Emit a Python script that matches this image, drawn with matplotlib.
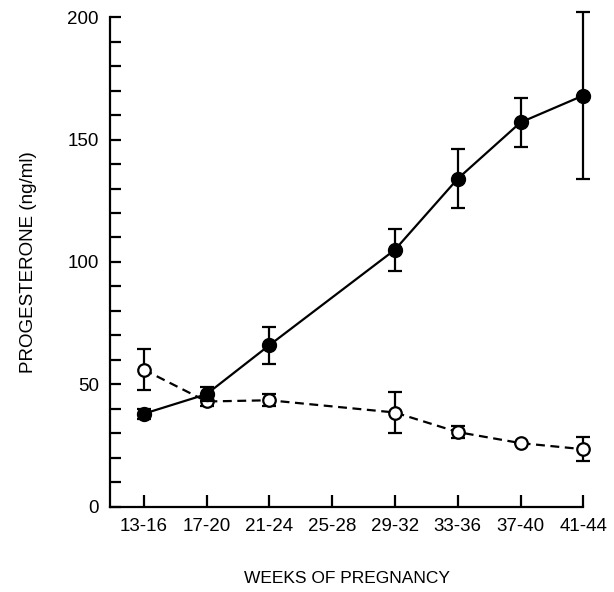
import matplotlib
matplotlib.use('Agg')
import matplotlib.pyplot as plt
import numpy as np

plt.rcParams['font.family'] = ['Liberation Sans', 'DejaVu Sans']

weeks = ['13-16', '17-20', '21-24', '25-28', '29-32', '33-36', '37-40', '41-44']

# filled circles (solid line)
filled_pos = [0, 1, 2, 4, 5, 6, 7]
filled_val = [38, 46, 66, 105, 134, 157, 168]
filled_err = [2, 3, 7.5, 8.5, 12, 10, 34]

# open circles (dashed line)
open_pos = [0, 1, 2, 4, 5, 6, 7]
open_val = [56, 43, 43.5, 38.5, 30.5, 26, 23.5]
open_err = [8.5, 2, 2.5, 8.5, 2.5, 0, 5]

fig = plt.figure(figsize=(6.14, 5.92), dpi=100)
fig.patch.set_facecolor('white')
ax = fig.add_axes([0.179, 0.144, 0.771, 0.827])

eb1 = ax.errorbar(open_pos, open_val, yerr=open_err, fmt='o', color='black',
                  linestyle=(0, (4, 2.5)), linewidth=1.6, markersize=9,
                  markerfacecolor='white', markeredgecolor='black', markeredgewidth=1.6,
                  ecolor='black', elinewidth=1.6, capsize=5, capthick=1.6, zorder=3)
eb2 = ax.errorbar(filled_pos, filled_val, yerr=filled_err, fmt='o-', color='black',
                  linewidth=1.6, markersize=10, markerfacecolor='black',
                  ecolor='black', elinewidth=1.6, capsize=5, capthick=1.6, zorder=4)
for eb in (eb1, eb2):
    for art in eb.get_children():
        art.set_clip_on(False)

ax.set_xlim(-0.54, 7)
ax.set_ylim(0, 200)
ax.spines['top'].set_visible(False)
ax.spines['right'].set_visible(False)
ax.spines['left'].set_linewidth(1.6)
ax.spines['bottom'].set_linewidth(1.6)

ax.set_xticks(range(len(weeks)))
ax.set_xticklabels(weeks)
ax.set_yticks([0, 50, 100, 150, 200])
ax.set_yticks(np.arange(0, 201, 10), minor=True)
ax.tick_params(axis='both', direction='in', length=8, width=1.6, labelsize=13.5, pad=8)
ax.tick_params(axis='y', which='minor', direction='in', length=8, width=1.6)
ax.tick_params(axis='x', length=9)

ax.set_ylabel('PROGESTERONE (ng/ml)', fontsize=13.5, labelpad=22)
ax.set_xlabel('WEEKS OF PREGNANCY', fontsize=12.5, labelpad=26)

fig.savefig('out.png', dpi=100)
